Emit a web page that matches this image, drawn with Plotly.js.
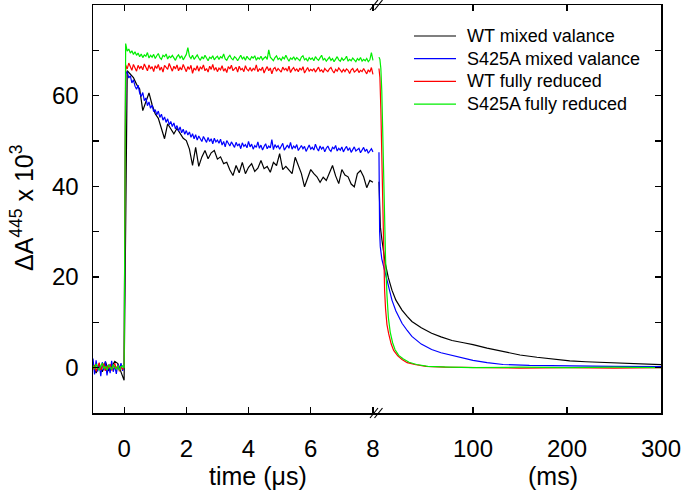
<!DOCTYPE html>
<html>
<head>
<meta charset="utf-8">
<script src="https://cdn.plot.ly/plotly-3.0.1.min.js"></script>
<style>html,body{margin:0;padding:0;background:#fff;}#chart{width:685px;height:491px;}</style>
</head>
<body>
<div id="chart"></div>
<script>
// ---------- DATA ----------
var seriesNames = ["WT mixed valance", "S425A mixed valance", "WT fully reduced", "S425A fully reduced"];
var seriesColors = ["#000000", "#0000ff", "#ff0000", "#00ee00"];

// Left panel (time in microseconds). Sampled from -1 us.
var usStart = -1;
var usStepDense = 0.05;   // blue, red, green
var usStepBlack = 0.1;    // black

var wtMixedUs = [
  0.8, -1.2, 0.5, -0.9, 1.3, -0.6, 0.2, 1.4, 0.9, -1.0, -2.8,
  65.5, 64.8, 64.0, 62.5, 61.5, 56.7, 58.5, 60.6, 58.0, 56.0,
  55.0, 52.5, 50.5, 53.8, 52.6, 51.6, 52.8, 51.8, 50.6, 50.1,
  48.2, 44.6, 48.6, 44.4, 46.5, 47.9, 46.1, 47.4, 47.9, 46.0,
  46.5, 45.0, 45.3, 43.6, 42.4, 44.6, 43.0, 45.3, 42.8, 44.2,
  45.0, 43.3, 44.0, 45.7, 43.9, 44.4, 43.1, 45.3, 44.6, 47.2,
  43.7, 44.4, 43.5, 42.8, 46.4, 44.5, 42.8, 39.9, 41.8, 43.7,
  42.8, 42.1, 40.9, 42.0, 41.3, 42.9, 44.6, 42.3, 40.6, 43.7,
  42.5, 42.1, 40.5, 39.9, 42.8, 43.5, 42.1, 39.7, 41.3, 40.9
];

var s425aMixedUs = [
  2.0, -1.5, 1.6, -0.8, 0.9, -1.9, 1.2, -0.6, 1.4, -1.7, 0.7, -1.2, 1.5, -0.9, 0.4, -1.4, 0.8, -0.5, 1.0, -0.7, 0.2,
  64.8, 65.3, 63.9, 64.4, 62.8, 63.5, 62.1, 61.4, 62.3, 60.6,
  59.8, 60.7, 58.9, 59.5, 57.8, 58.6, 57.2, 57.9, 56.5, 56.9,
  55.8, 56.6, 55.2, 55.9, 54.6, 55.3, 54.1, 54.9, 53.6, 54.3,
  53.2, 54.0, 52.7, 53.4, 52.2, 53.1, 51.8, 52.6, 51.5, 52.3,
  51.3, 52.0, 50.8, 51.6, 50.5, 51.4, 50.2, 51.1, 50.6, 49.9,
  51.0, 50.3, 49.7, 50.8, 49.9, 50.5, 49.4, 50.6, 49.8, 50.2,
  49.5, 50.4, 49.1, 49.9, 48.7, 50.1, 49.3, 48.9, 49.8, 49.2,
  48.6, 49.7, 48.9, 49.4, 48.3, 49.6, 48.8, 49.2, 48.5, 49.9,
  48.7, 49.3, 48.2, 49.0, 48.6, 49.8, 48.4, 49.1, 48.0, 48.8,
  49.4, 48.3, 48.9, 48.5, 50.3, 48.1, 49.2, 48.6, 49.0, 48.2,
  48.8, 49.5, 48.0, 48.7, 49.1, 48.4, 49.7, 48.2, 48.9, 48.5,
  49.2, 47.9, 48.6, 49.0, 48.3, 48.8, 47.7, 48.5, 49.1, 48.2,
  48.6, 48.0, 49.3, 48.4, 47.8, 48.9, 48.2, 48.7, 47.6, 48.4,
  48.9, 48.1, 47.7, 48.6, 48.3, 49.0, 47.8, 48.4, 48.0, 48.7,
  47.6, 48.3, 48.8, 47.9, 48.5, 47.5, 48.2, 48.7, 47.8, 48.1,
  48.4, 47.4, 48.0, 48.6, 47.7, 48.2, 47.3, 47.9, 48.3, 47.6
];

var wtReducedUs = [
  -0.4, 0.6, -0.8, 0.3, 1.1, -0.5, 0.2, 0.9, -0.7, 0.4, -0.2, 0.8, -0.6, 0.1, 1.0, -0.3, 0.5, -0.8, 0.3, -0.4, 0.2,
  66.8, 65.9, 67.2, 66.3, 65.6, 66.9, 66.1, 65.4, 66.7, 66.0,
  66.5, 65.7, 67.0, 66.2, 65.5, 66.8, 65.9, 66.4, 65.3, 66.6,
  66.0, 66.9, 65.6, 66.3, 65.2, 66.7, 66.1, 65.8, 67.1, 66.0,
  65.4, 66.5, 65.9, 66.8, 65.5, 66.2, 65.7, 66.9, 66.0, 65.3,
  66.4, 65.8, 66.7, 64.9, 66.1, 65.6, 66.6, 65.4, 66.3, 65.9,
  66.8, 65.5, 66.0, 65.2, 66.5, 65.8, 66.9, 65.6, 66.2, 65.3,
  66.1, 65.7, 66.6, 65.4, 66.0, 65.1, 66.4, 65.9, 66.7, 65.5,
  65.9, 66.3, 65.2, 66.5, 65.7, 66.0, 65.3, 66.6, 65.8, 65.5,
  66.2, 65.4, 66.0, 65.7, 66.8, 65.3, 65.9, 65.6, 66.3, 65.0,
  65.8, 66.4, 65.5, 66.1, 64.8, 65.9, 66.2, 65.4, 66.0, 65.6,
  65.2, 66.3, 65.7, 66.0, 65.4, 66.5, 65.1, 65.8, 66.2, 65.5,
  65.9, 65.3, 66.1, 65.6, 66.4, 65.0, 65.7, 66.2, 65.4, 65.8,
  65.5, 66.0, 65.2, 65.9, 66.3, 65.4, 65.7, 65.1, 66.0, 65.6,
  65.3, 65.9, 66.2, 65.5, 65.0, 65.8, 65.4, 66.1, 65.6, 65.2,
  65.8, 65.3, 65.9, 65.6, 64.9, 65.7, 66.0, 65.2, 65.5, 65.9,
  65.1, 65.6, 65.3, 66.0, 65.4, 64.8, 65.7, 65.2, 66.2, 64.7
];

var s425aReducedUs = [
  0.5, -0.3, 0.8, 0.2, -0.6, 0.4, 1.0, -0.2, 0.3, -0.5, 0.6, 0.1, -0.4, 0.7, 0.0, -0.3, 0.5, -0.6, 0.2, 0.4, -0.1,
  71.5, 69.8, 70.3, 69.4, 69.9, 69.1, 69.7, 68.9, 69.4, 68.6,
  69.2, 68.4, 69.0, 68.7, 69.5, 68.3, 68.9, 68.5, 69.1, 68.2,
  68.8, 69.3, 68.4, 68.0, 68.9, 68.6, 69.2, 68.1, 68.7, 68.4,
  68.9, 68.2, 67.8, 68.6, 69.0, 68.3, 68.8, 67.9, 68.5, 69.1,
  70.6, 68.7, 68.2, 68.9, 68.0, 68.5, 69.0, 68.3, 67.8, 68.6,
  68.1, 68.9, 68.4, 67.7, 68.5, 68.2, 68.8, 67.9, 68.4, 68.7,
  68.0, 68.6, 68.3, 69.2, 68.1, 67.8, 68.5, 68.9, 68.2, 67.9,
  68.6, 68.3, 67.7, 68.4, 68.9, 68.1, 68.5, 67.8, 68.7, 68.2,
  67.9, 68.6, 68.3, 68.8, 67.8, 68.4, 68.1, 68.7, 67.9, 68.3,
  68.6, 68.0, 70.1, 68.5, 68.2, 67.7, 68.4, 68.8, 68.0, 68.3,
  67.8, 68.5, 68.1, 68.9, 68.2, 67.6, 68.3, 68.0, 68.6, 67.9,
  68.4, 68.1, 67.7, 68.5, 68.8, 67.9, 68.2, 67.6, 68.4, 68.0,
  68.3, 67.7, 68.6, 68.1, 67.8, 68.4, 68.9, 67.9, 68.2, 67.6,
  68.0, 68.5, 67.8, 68.2, 67.5, 68.1, 68.6, 67.9, 67.6, 68.3,
  67.8, 68.1, 68.7, 67.6, 68.0, 67.7, 68.3, 67.9, 67.5, 68.2,
  67.8, 68.4, 67.6, 68.0, 67.7, 68.2, 67.5, 67.9, 69.5, 67.8
];

// Right panel (time in milliseconds)
var wtMixedMsT = [0, 0.4, 1.5, 3.2, 5, 6.7, 10, 13.8, 18, 24.5, 30, 35, 45, 56, 66, 77.7, 90, 100, 115, 132, 150, 168, 185, 203, 220, 238, 260, 280, 300];
var wtMixedMsY = [41, 36, 31, 28.1, 25.3, 23, 19.8, 17.1, 14.9, 12.7, 11.3, 10.2, 8.8, 7.6, 6.8, 6.0, 5.5, 5.1, 4.3, 3.5, 2.8, 2.3, 1.9, 1.5, 1.3, 1.15, 0.95, 0.8, 0.65];

var s425aMixedMsT = [0, 0.3, 0.7, 1.4, 3, 5, 6.7, 10, 13.8, 18, 24.5, 30, 35, 45, 56, 66, 77.7, 90, 100, 115, 132, 160, 200, 250, 300];
var s425aMixedMsY = [47.5, 34, 30, 26.7, 24, 22.3, 20.8, 17.6, 14.9, 12.5, 9.8, 8.2, 6.9, 5.2, 4.0, 3.3, 2.7, 2.0, 1.6, 1.1, 0.7, 0.5, 0.35, 0.3, 0.25];

var wtReducedMsT = [0, 1, 2, 3, 4, 5, 6, 7, 8.5, 10.3, 13, 15.6, 20, 24.5, 30, 38, 50, 70, 100, 150, 200, 250, 300];
var wtReducedMsY = [66, 64, 57, 46, 34, 24, 17, 13, 9.5, 7.5, 5.2, 3.8, 2.6, 1.8, 1.1, 0.7, 0.3, 0.1, 0, -0.1, 0, -0.1, 0];

var s425aReducedMsT = [0, 1, 2, 3, 4, 5, 6, 7, 8.5, 10, 12, 14.5, 17, 21, 26, 32, 40, 52, 75, 100, 150, 200, 250, 300];
var s425aReducedMsY = [68.5, 68, 66, 61, 52, 42, 32, 24, 16, 11, 7.8, 5.5, 4.0, 2.7, 1.9, 1.2, 0.7, 0.3, 0.1, 0, 0.1, 0, 0.1, 0];

// Ticks
var yTickVals = [0, 20, 40, 60];
var yMinorTickVals = [-10, 10, 30, 50, 70];
var yRightTickVals = [0, 10, 20, 30, 40, 50, 60, 70];
var usTickVals = [0, 2, 4, 6, 8];
var msTickVals = [100, 200, 300];

// ---------- PLOT ----------
var FONT = "Liberation Sans, Arial, Helvetica, sans-serif";
var LW = 1.2;

var leftY = [wtMixedUs, s425aMixedUs, wtReducedUs, s425aReducedUs];
var leftStep = [usStepBlack, usStepDense, usStepDense, usStepDense];
var rightT = [wtMixedMsT, s425aMixedMsT, wtReducedMsT, s425aReducedMsT];
var rightY = [wtMixedMsY, s425aMixedMsY, wtReducedMsY, s425aReducedMsY];

var traces = [];
for (var i = 0; i < 4; i++) {
  traces.push({
    type: "scatter", mode: "lines", name: seriesNames[i], showlegend: false,
    x0: usStart, dx: leftStep[i], y: leftY[i],
    xaxis: "x", yaxis: "y",
    line: {color: seriesColors[i], width: LW}
  });
}
for (var j = 0; j < 4; j++) {
  traces.push({
    type: "scatter", mode: "lines", name: seriesNames[j], showlegend: false,
    x: rightT[j], y: rightY[j],
    xaxis: "x2", yaxis: "y2",
    line: {color: seriesColors[j], width: LW}
  });
}

var tickFont = {family: FONT, size: 24, color: "#000"};
var axisCommon = {
  showgrid: false, zeroline: false, showline: true, linecolor: "#000", linewidth: 1.5,
  ticks: "inside", ticklen: 6, tickwidth: 1.2, tickcolor: "#000", tickfont: tickFont
};

function merge(a, b) { var o = {}; for (var k in a) o[k] = a[k]; for (var k2 in b) o[k2] = b[k2]; return o; }

// plot-area pixel geometry (568 x 408, origin at left=93, bottom=413)
var PW = 568, PH = 408, L0 = 93, B0 = 413;
function pxX(x) { return (x - L0) / PW; }
function pxY(y) { return (B0 - y) / PH; }

var shapes = [];
// axis break marks
[374, 378.5].forEach(function (cx) {
  [413, 5].forEach(function (cy) {
    shapes.push({type: "line", xref: "paper", yref: "paper",
      x0: pxX(cx - 4), x1: pxX(cx + 4), y0: pxY(cy + 5), y1: pxY(cy - 5),
      line: {color: "#000", width: 1.2}});
  });
});

var annotations = [
  {text: "time (\u03bcs)", xref: "paper", yref: "paper", x: pxX(258), y: pxY(476),
   xanchor: "center", yanchor: "middle", showarrow: false, font: {family: FONT, size: 25, color: "#000"}},
  {text: "(ms)", xref: "paper", yref: "paper", x: pxX(553), y: pxY(476),
   xanchor: "center", yanchor: "middle", showarrow: false, font: {family: FONT, size: 25, color: "#000"}},
  {text: "\u0394A<sup>445</sup> x 10<sup>3</sup>", xref: "paper", yref: "paper", x: pxX(22), y: pxY(208),
   xanchor: "center", yanchor: "middle", textangle: -90, showarrow: false, font: {family: FONT, size: 25, color: "#000"}}
];

// legend (drawn manually for exact row spacing)
var legendRowY = [36, 58.7, 81.4, 104.1];
for (var k = 0; k < 4; k++) {
  shapes.push({type: "line", xref: "paper", yref: "paper",
    x0: pxX(414), x1: pxX(456), y0: pxY(legendRowY[k]), y1: pxY(legendRowY[k]),
    line: {color: seriesColors[k], width: LW}});
  annotations.push({text: seriesNames[k], xref: "paper", yref: "paper", x: pxX(465), y: pxY(legendRowY[k]),
    xanchor: "left", yanchor: "middle", showarrow: false, font: {family: FONT, size: 18, color: "#000"}});
}

var layout = {
  width: 685, height: 491,
  margin: {l: L0, r: 24, t: 5, b: 78, pad: 0},
  paper_bgcolor: "#fff", plot_bgcolor: "#fff",
  font: {family: FONT, color: "#000"},
  showlegend: false,
  xaxis: merge(axisCommon, {domain: [0, 0.5], range: [-1, 8.13], tickvals: usTickVals, mirror: "ticks", anchor: "y", ticklabelstandoff: 14}),
  xaxis2: merge(axisCommon, {domain: [0.5, 1], range: [-2.1, 300], tickvals: msTickVals, mirror: "ticks", anchor: "y2", ticklabelstandoff: 14}),
  yaxis: merge(axisCommon, {domain: [0, 1], range: [-10, 80], tickvals: yTickVals, anchor: "x", side: "left", ticklabelstandoff: 8,
    minor: {tickvals: yMinorTickVals, ticks: "inside", ticklen: 6, tickwidth: 1.2, tickcolor: "#000"}}),
  yaxis2: merge(axisCommon, {domain: [0, 1], range: [-10, 80], tickvals: yRightTickVals, showticklabels: false, anchor: "x2", side: "right"}),
  shapes: shapes,
  annotations: annotations
};

Plotly.newPlot("chart", traces, layout, {displayModeBar: false, staticPlot: true});
</script>
</body>
</html>
